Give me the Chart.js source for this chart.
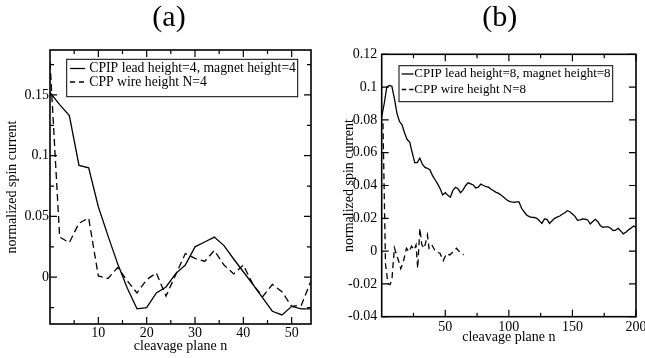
<!DOCTYPE html>
<html>
<head>
<meta charset="utf-8">
<script src="https://cdn.jsdelivr.net/npm/chart.js@4.4.0/dist/chart.umd.min.js"></script>
<style>
  body { margin: 0; background: #fff; }
  #wrap { position: relative; width: 645px; height: 358px; }
  canvas { position: absolute; top: 0; }
  #chartA { left: 0; }
  #chartB { left: 322px; }
</style>
</head>
<body>
<div id="wrap">
  <canvas id="chartA" width="322" height="358"></canvas>
  <canvas id="chartB" width="323" height="358"></canvas>
</div>
<script>
// ---- panel (a) : height 4 ----
const planesA = [0, 2, 4, 6, 8, 10, 12, 14, 16, 18, 20, 22, 24, 26, 28, 30, 32, 34, 36, 38, 40, 42, 44, 46, 48, 50, 52, 54];
const cpipA = [0.152, 0.142, 0.133, 0.092, 0.090, 0.058, 0.034, 0.011, -0.009, -0.026, -0.025, -0.013, -0.008, 0.003,
               0.010, 0.025, 0.029, 0.033, 0.026, 0.015, 0.0045, -0.006, -0.017, -0.028, -0.031, -0.024, -0.026, -0.026];
const cppA = [0.177, 0.033, 0.0285, 0.0445, 0.0486, 0.001, -0.001, 0.008, -0.003, -0.013, -0.002, 0.0035, -0.0155, 0.002,
              0.0195, 0.0155, 0.013, 0.022, 0.010, 0.0027, 0.010, -0.006, -0.016, -0.006, -0.012, -0.024, -0.023, -0.003];

// ---- panel (b) : height 8 ----
const planesB = [0, 2, 4, 6, 8, 10, 12, 14, 16, 18, 20, 22, 24, 26, 28, 30, 32, 34, 36, 38, 40, 42, 44, 46, 48, 50,
                 52, 54, 56, 58, 60, 62, 64, 66, 68, 70, 72, 74, 76, 78, 80, 82, 84, 86, 88, 90, 92, 94, 96, 98, 100,
                 102, 104, 106, 108, 110, 112, 114, 116, 118, 120, 122, 124, 126, 128, 130, 132, 134, 136, 138, 140,
                 142, 144, 146, 148, 150, 152, 154, 156, 158, 160, 162, 164, 166, 168, 170, 172, 174, 176, 178, 180,
                 182, 184, 186, 188, 190, 192, 194, 196, 198, 200];
const cpipB = [0.082, 0.090, 0.100, 0.101, 0.1005, 0.093, 0.084, 0.079, 0.077, 0.072, 0.068, 0.0665, 0.060, 0.054, 0.054,
               0.0566, 0.053, 0.051, 0.0505, 0.0495, 0.046, 0.0435, 0.041, 0.038, 0.0342, 0.0356,
               0.034, 0.0328, 0.037, 0.0389, 0.038, 0.0356, 0.0373, 0.040, 0.0417, 0.041, 0.0403, 0.0385, 0.039, 0.0409,
               0.040, 0.0393, 0.039, 0.0377, 0.0368, 0.0358, 0.0352, 0.034, 0.0328, 0.0315, 0.0305,
               0.030, 0.0297, 0.030, 0.030, 0.0261, 0.024, 0.022, 0.021, 0.0206, 0.0205, 0.020, 0.0185, 0.0169, 0.0196,
               0.0194, 0.0169, 0.0185, 0.020, 0.0207, 0.0214, 0.0225, 0.0234, 0.0246, 0.024, 0.0226,
               0.0212, 0.0188, 0.019, 0.0196, 0.0195, 0.019, 0.0165, 0.018, 0.0194, 0.0179, 0.0155, 0.0145, 0.0148,
               0.0148, 0.0139, 0.0125, 0.0128, 0.0139, 0.0123, 0.0105, 0.0115, 0.0129, 0.014, 0.0153, 0.0145];
const planesCppB = [1, 3, 5, 6.5, 8, 10, 12, 13.5, 15, 17, 19.5, 21.5, 23.5, 25.5, 27, 28.3, 30, 31.5, 33.5, 36,
                    37.2, 39.3, 42.4, 45.8, 48.4, 51, 53.6, 58.8, 61.8, 64.5];
const cppB = [0.078, -0.008, -0.020, -0.0205, -0.0176, 0.002, -0.003, -0.0065, -0.0107, -0.0065, 0.0017, -0.0004,
              0.003, 0.0007, 0.0037, -0.0105, 0.0139, 0.004, 0.0017, 0.0098, 0.0017, 0.004, -0.0004, -0.0013,
              -0.0058, -0.0015, -0.0024, 0.0017, -0.001, -0.0022];

// ticks (all drawn as marks) and the ones that carry a label
const xTicksA = [5, 10, 15, 20, 25, 30, 35, 40, 45, 50];
const xLabelsA = [10, 20, 30, 40, 50];
const yTicksA = [-0.025, 0, 0.025, 0.05, 0.075, 0.1, 0.125, 0.15, 0.175];
const yLabelsA = [0, 0.05, 0.1, 0.15];
const xTicksB = [25, 50, 75, 100, 125, 150, 175, 200];
const xLabelsB = [50, 100, 150, 200];
const yTicksB = [-0.04, -0.02, 0, 0.02, 0.04, 0.06, 0.08, 0.1, 0.12];
const yLabelsB = yTicksB;

const seriesA = ['CPIP lead height=4, magnet height=4', 'CPP wire height N=4'];
const seriesB = ['CPIP lead height=8, magnet height=8', 'CPP wire height N=8'];

Chart.defaults.font.family = '"Liberation Serif", "Times New Roman", serif';
Chart.defaults.font.size = 14;
Chart.defaults.color = '#000';

const fmt = (v) => String(+v.toFixed(3));
const pickLabel = (list) => (v) => list.some(l => Math.abs(l - v) < 1e-9) ? fmt(v) : '';

// frame, inward ticks, boxed legend and panel letter
const decor = {
    id: 'decor',
    afterDraw(chart, args, opts) {
        const { ctx, chartArea: a } = chart;
        ctx.save();
        ctx.strokeStyle = '#000';
        ctx.lineWidth = 1.6;
        ctx.strokeRect(a.left, a.top, a.right - a.left, a.bottom - a.top);

        ctx.lineWidth = 1.2;
        ctx.beginPath();
        chart.scales.x.ticks.forEach(t => {
            const px = chart.scales.x.getPixelForValue(t.value);
            const len = t.label ? 7 : 4;
            ctx.moveTo(px, a.bottom); ctx.lineTo(px, a.bottom - len);
            ctx.moveTo(px, a.top); ctx.lineTo(px, a.top + len);
        });
        chart.scales.y.ticks.forEach(t => {
            const py = chart.scales.y.getPixelForValue(t.value);
            const len = t.label ? 7 : 4;
            ctx.moveTo(a.left, py); ctx.lineTo(a.left + len, py);
            ctx.moveTo(a.right, py); ctx.lineTo(a.right - len, py);
        });
        ctx.stroke();

        // legend
        const lg = opts.legend;
        ctx.lineWidth = 1;
        ctx.strokeRect(lg.x, lg.y, lg.w, lg.h);
        ctx.font = lg.size + 'px "Liberation Serif"';
        ctx.fillStyle = '#000';
        ctx.textBaseline = 'middle';
        ctx.textAlign = 'left';
        chart.data.datasets.forEach((ds, i) => {
            const y = lg.rows[i];
            ctx.beginPath();
            ctx.setLineDash(ds.borderDash ? lg.dash : []);
            ctx.lineWidth = 1.3;
            ctx.moveTo(lg.sample[0], y);
            ctx.lineTo(lg.sample[1], y);
            ctx.stroke();
            ctx.setLineDash([]);
            ctx.fillText(ds.label, lg.textX, y);
        });

        // panel letter
        ctx.font = opts.panel.size + 'px "Liberation Serif"';
        ctx.textAlign = 'center';
        ctx.fillText(opts.panel.text, opts.panel.x, opts.panel.y);
        ctx.restore();
    }
};

const makeChart = (id, cfg) => {
    const ctx = document.getElementById(id).getContext('2d');
    return new Chart(ctx, {
        type: 'line',
        data: {
            datasets: [
                {
                    label: cfg.names[0],
                    data: cfg.solidX.map((x, i) => ({ x: x, y: cfg.solidY[i] })),
                    borderColor: '#000',
                    borderWidth: 1.3,
                    pointRadius: 0,
                    tension: 0,
                },
                {
                    label: cfg.names[1],
                    data: cfg.dashX.map((x, i) => ({ x: x, y: cfg.dashY[i] })),
                    borderColor: '#000',
                    borderWidth: 1.3,
                    borderDash: cfg.dash,
                    pointRadius: 0,
                    tension: 0,
                }
            ],
        },
        options: {
            responsive: false,
            animation: false,
            events: [],
            layout: { padding: cfg.padding },
            plugins: {
                legend: { display: false },
                tooltip: { enabled: false },
                decor: { legend: cfg.legend, panel: cfg.panel },
            },
            scales: {
                x: {
                    type: 'linear',
                    min: cfg.xRange[0],
                    max: cfg.xRange[1],
                    afterBuildTicks: (s) => { s.ticks = cfg.xTicks.map(v => ({ value: v })); },
                    afterFit: (s) => { s.height = cfg.xHeight; s.paddingLeft = 0; s.paddingRight = 0; },
                    grid: { display: false, drawTicks: false },
                    border: { display: false },
                    ticks: { autoSkip: false, maxRotation: 0, padding: cfg.xPad, callback: pickLabel(cfg.xLabels) },
                    title: { display: true, text: 'cleavage plane n', padding: { top: 0, bottom: cfg.xTitlePad } },
                },
                y: {
                    type: 'linear',
                    min: cfg.yRange[0],
                    max: cfg.yRange[1],
                    afterBuildTicks: (s) => { s.ticks = cfg.yTicks.map(v => ({ value: v })); },
                    afterFit: (s) => { s.width = cfg.yWidth; s.paddingTop = 0; s.paddingBottom = 0; },
                    grid: { display: false, drawTicks: false },
                    border: { display: false },
                    ticks: { autoSkip: false, padding: cfg.yPad, callback: pickLabel(cfg.yLabels) },
                    title: { display: true, text: 'normalized spin current', padding: { top: cfg.yTitlePad, bottom: 0 } },
                },
            },
        },
        plugins: [decor],
    });
};

makeChart('chartA', {
    names: seriesA,
    solidX: planesA, solidY: cpipA,
    dashX: planesA, dashY: cppA,
    dash: [7, 4],
    padding: { left: 0, right: 11, top: 50, bottom: 0 },
    xRange: [0, 54], yRange: [-0.0385, 0.187],
    xTicks: xTicksA, xLabels: xLabelsA, yTicks: yTicksA, yLabels: yLabelsA,
    xHeight: 34, yWidth: 50, xPad: 1, yPad: 1, xTitlePad: 3, yTitlePad: 4.4,
    legend: { x: 66.7, y: 59.3, w: 231, h: 37.4, rows: [68.5, 82], sample: [70, 85], dash: [5, 4], textX: 89.3, size: 13.7 },
    panel: { text: '(a)', x: 169, y: 18, size: 30 },
});

makeChart('chartB', {
    names: seriesB,
    solidX: planesB, solidY: cpipB,
    dashX: planesCppB, dashY: cppB,
    dash: [6, 4],
    padding: { left: 0, right: 9, top: 54.3, bottom: 0 },
    xRange: [0, 200], yRange: [-0.04, 0.12],
    xTicks: xTicksB, xLabels: xLabelsB, yTicks: yTicksB, yLabels: yLabelsB,
    xHeight: 41.3, yWidth: 59.7, xPad: 2, yPad: 4.5, xTitlePad: 12, yTitlePad: 19,
    legend: { x: 77, y: 65.7, w: 213.7, h: 36, rows: [74, 89.5], sample: [79.7, 91.5], dash: [4.5, 3], textX: 92.3, size: 13 },
    panel: { text: '(b)', x: 177.7, y: 18, size: 30 },
});
</script>
</body>
</html>
